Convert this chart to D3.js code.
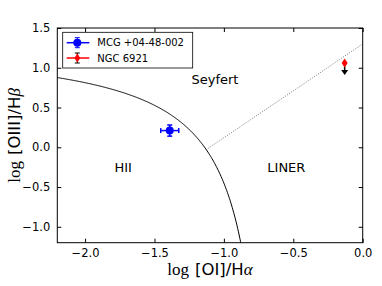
<!DOCTYPE html>
<html>
<head>
<meta charset="utf-8">
<script src="https://cdn.jsdelivr.net/npm/d3@7"></script>
<style>
  body { margin: 0; background: #fff; }
  text { font-family: "DejaVu Sans", sans-serif; }
</style>
</head>
<body>
<svg id="chart" width="382" height="286"></svg>
<script>
// galaxies and their line ratios
const names = ["MCG +04-48-002", "NGC 6921"];
const logOI = [-1.39, -0.13];
const logOIII = [0.21, 1.06];
const errOI = [0.065, 0];
const errOIII = [0.07, 0];
const colors = ["#0000ff", "#ff0000"];
const upperLimitLen = 0.15; // NGC 6921 is an upper limit

// tick labels
const xTicks = [-2.0, -1.5, -1.0, -0.5, 0.0];
const yTicks = [-1.0, -0.5, 0.0, 0.5, 1.0, 1.5];

// region labels
const regions = [
  {name: "Seyfert", x: -1.064, y: 0.79},
  {name: "HII", x: -1.725, y: -0.31},
  {name: "LINER", x: -0.55, y: -0.31}
];

// Kewley et al. demarcation lines
const kew01 = {a: 0.73, b: 0.59, c: 1.33};
const kew06 = {m: 1.18, q: 1.30};

const svg = d3.select("#chart");
const mLeft = 57.3, mRight = 362.7, mTop = 28, mBottom = 242.7;

const x = d3.scaleLinear().domain([-2.2, 0.0]).range([mLeft, mRight]);
const y = d3.scaleLinear().domain([-1.2, 1.5]).range([mBottom, mTop]);
const fmt = v => d3.format(".1f")(v).replace("-", "\u2212");

svg.append("clipPath").attr("id", "clip")
  .append("rect").attr("x", mLeft).attr("y", mTop)
  .attr("width", mRight - mLeft).attr("height", mBottom - mTop);

// axes, ticks inward on all sides
svg.append("g").attr("transform", `translate(0,${mBottom})`)
  .call(d3.axisBottom(x).tickValues(xTicks).tickSize(-4).tickPadding(6).tickFormat(fmt));
svg.append("g").attr("transform", `translate(0,${mTop})`)
  .call(d3.axisTop(x).tickValues(xTicks).tickSize(-4).tickFormat(""));
svg.append("g").attr("transform", `translate(${mLeft},0)`)
  .call(d3.axisLeft(y).tickValues(yTicks).tickSize(-4).tickPadding(7).tickFormat(fmt));
svg.append("g").attr("transform", `translate(${mRight},0)`)
  .call(d3.axisRight(y).tickValues(yTicks).tickSize(-4).tickFormat(""));
svg.selectAll(".domain").remove();
svg.selectAll(".tick text").attr("font-size", 11.5).attr("fill", "#000")
  .attr("font-family", "DejaVu Sans");
svg.selectAll(".tick line").attr("stroke", "#000");
svg.append("rect").attr("x", mLeft).attr("y", mTop)
  .attr("width", mRight - mLeft).attr("height", mBottom - mTop)
  .attr("fill", "none").attr("stroke", "#000").attr("stroke-width", 1);

// Kewley 2001 curve
const curveX = d3.range(-2.2, -kew01.b - 0.25, 0.005);
const curvePts = curveX.map(v => [v, kew01.a / (v + kew01.b) + kew01.c]);
svg.append("path").datum(curvePts)
  .attr("clip-path", "url(#clip)")
  .attr("fill", "none").attr("stroke", "#000").attr("stroke-width", 1)
  .attr("d", d3.line().x(d => x(d[0])).y(d => y(d[1])));

// Seyfert/LINER line from where it meets the curve
// solve m*u^2 + k*u - a = 0 with u = x + b, left branch
const k = kew06.q - kew06.m * kew01.b - kew01.c;
const u = (-k - Math.sqrt(k * k + 4 * kew06.m * kew01.a)) / (2 * kew06.m);
const x0 = u - kew01.b;
const sepPts = [[x0, kew06.m * x0 + kew06.q], [0, kew06.q]];
svg.append("path").datum(sepPts)
  .attr("clip-path", "url(#clip)")
  .attr("fill", "none").attr("stroke", "#555").attr("stroke-width", 0.8)
  .attr("stroke-dasharray", "1,1.5")
  .attr("d", d3.line().x(d => x(d[0])).y(d => y(d[1])));

// region labels
svg.selectAll(".region").data(regions).join("text")
  .attr("class", "region")
  .attr("x", d => x(d.x)).attr("y", d => y(d.y))
  .attr("text-anchor", "middle").attr("font-size", 13)
  .text(d => d.name);

// MCG +04-48-002 with error bars
const g0 = svg.append("g").attr("stroke", colors[0]).attr("stroke-width", 1.5);
const px = x(logOI[0]), py = y(logOIII[0]);
g0.append("line").attr("x1", x(logOI[0] - errOI[0])).attr("x2", x(logOI[0] + errOI[0]))
  .attr("y1", py).attr("y2", py);
g0.append("line").attr("y1", y(logOIII[0] - errOIII[0])).attr("y2", y(logOIII[0] + errOIII[0]))
  .attr("x1", px).attr("x2", px);
[x(logOI[0] - errOI[0]), x(logOI[0] + errOI[0])].forEach(cx =>
  g0.append("line").attr("x1", cx).attr("x2", cx).attr("y1", py - 2.5).attr("y2", py + 2.5));
[y(logOIII[0] - errOIII[0]), y(logOIII[0] + errOIII[0])].forEach(cy =>
  g0.append("line").attr("y1", cy).attr("y2", cy).attr("x1", px - 2.5).attr("x2", px + 2.5));
svg.append("circle").attr("cx", px).attr("cy", py).attr("r", 4).attr("fill", colors[0]);

// NGC 6921 upper limit
const qx = x(logOI[1]), qy = y(logOIII[1]);
const tipY = y(logOIII[1] - upperLimitLen);
svg.append("line").attr("x1", qx).attr("x2", qx).attr("y1", qy).attr("y2", tipY - 4)
  .attr("stroke", "#000").attr("stroke-width", 1.5);
svg.append("path")
  .attr("d", `M${qx - 3.5},${tipY - 5}L${qx + 3.5},${tipY - 5}L${qx},${tipY}Z`)
  .attr("fill", "#000");
svg.append("path")
  .attr("d", `M${qx},${qy - 4.5}L${qx + 3},${qy}L${qx},${qy + 4.5}L${qx - 3},${qy}Z`)
  .attr("fill", colors[1]);

// legend
const lg = svg.append("g");
lg.append("rect").attr("x", 62.7).attr("y", 32.3).attr("width", 130).attr("height", 35.7)
  .attr("fill", "#fff").attr("stroke", "#000").attr("stroke-width", 0.8);
names.forEach((n, i) => {
  const ly = 42.7 + i * 15.3, mx = 77.3;
  lg.append("line").attr("x1", 66.7).attr("x2", 89.3).attr("y1", ly).attr("y2", ly)
    .attr("stroke", colors[i]).attr("stroke-width", 1.5);
  const ec = i === 0 ? colors[0] : "#000";
  lg.append("line").attr("x1", mx).attr("x2", mx).attr("y1", ly - 5).attr("y2", ly + 5)
    .attr("stroke", ec).attr("stroke-width", 1);
  [ly - 5, ly + 5].forEach(cy => lg.append("line").attr("x1", mx - 2.5).attr("x2", mx + 2.5)
    .attr("y1", cy).attr("y2", cy).attr("stroke", ec).attr("stroke-width", 1));
  if (i === 0) {
    lg.append("circle").attr("cx", mx).attr("cy", ly).attr("r", 4).attr("fill", colors[0]);
  } else {
    lg.append("path").attr("d", `M${mx},${ly - 4.5}L${mx + 3},${ly}L${mx},${ly + 4.5}L${mx - 3},${ly}Z`)
      .attr("fill", colors[1]);
  }
  lg.append("text").attr("x", 97.3).attr("y", ly + 3.7).attr("font-size", 10).text(n);
});

// axis labels (mathtext-like: serif "log" and greek, sans roman part)
function axisLabel(sel, roman, greek) {
  sel.append("tspan").attr("font-family", "Liberation Serif").attr("font-size", 17).text("log");
  sel.append("tspan").attr("dx", 6).attr("font-size", 16.5).text(roman);
  sel.append("tspan").attr("font-family", "Liberation Serif").attr("font-style", "italic")
    .attr("font-size", 17).text(greek);
}
const xl = svg.append("text").attr("x", (mLeft + mRight) / 2).attr("y", 275)
  .attr("text-anchor", "middle");
axisLabel(xl, "[OI]/H", "\u03b1");

const yl = svg.append("text")
  .attr("transform", `translate(20,${(mTop + mBottom) / 2}) rotate(-90)`)
  .attr("text-anchor", "middle");
axisLabel(yl, "[OIII]/H", "\u03b2");
</script>
</body>
</html>
